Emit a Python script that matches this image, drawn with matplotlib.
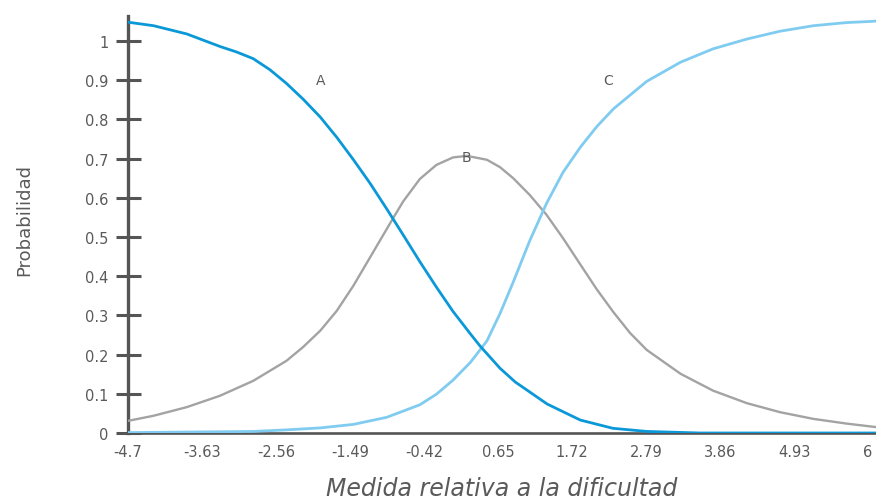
import matplotlib
matplotlib.use("Agg")
import matplotlib.pyplot as plt

# ---- data ----
x_ticks = [-4.7, -3.63, -2.56, -1.49, -0.42, 0.65, 1.72, 2.79, 3.86, 4.93, 6]
x_tick_labels = ["-4.7", "-3.63", "-2.56", "-1.49", "-0.42", "0.65", "1.72", "2.79", "3.86", "4.93", "6"]
y_ticks = [0, 0.1, 0.2, 0.3, 0.4, 0.5, 0.6, 0.7, 0.8, 0.9, 1]
y_tick_labels = ["0", "0.1", "0.2", "0.3", "0.4", "0.5", "0.6", "0.7", "0.8", "0.9", "1"]

a_x = [-4.70, -4.33, -3.85, -3.37, -3.13, -2.89, -2.65, -2.41, -2.17, -1.92, -1.68, -1.44,
       -1.20, -0.96, -0.72, -0.48, -0.24, 0.00, 0.25, 0.39, 0.68, 0.90, 1.36, 1.84,
       2.31, 2.80, 3.57, 6.12]
a_y = [1.048, 1.039, 1.018, 0.986, 0.972, 0.955, 0.927, 0.892, 0.852, 0.806, 0.754, 0.697,
       0.637, 0.572, 0.505, 0.437, 0.372, 0.310, 0.253, 0.222, 0.165, 0.130, 0.074, 0.033,
       0.012, 0.004, 0.000, 0.000]

b_x = [-4.70, -4.33, -3.85, -3.37, -2.89, -2.41, -2.17, -1.92, -1.68, -1.44, -1.20,
       -0.96, -0.86, -0.72, -0.48, -0.24, 0.00, 0.20, 0.49, 0.68, 0.87, 1.11, 1.35,
       1.59, 1.84, 2.08, 2.32, 2.56, 2.80, 3.29, 3.76, 4.25, 4.73, 5.21, 5.69, 6.12]
b_y = [0.031, 0.044, 0.066, 0.095, 0.133, 0.184, 0.219, 0.261, 0.312, 0.376, 0.448,
       0.520, 0.550, 0.591, 0.648, 0.684, 0.703, 0.707, 0.697, 0.678, 0.650, 0.607, 0.557,
       0.497, 0.430, 0.366, 0.308, 0.255, 0.212, 0.151, 0.108, 0.076, 0.053, 0.036, 0.024, 0.015]

c_x = [-4.70, -2.89, -2.41, -1.92, -1.44, -0.96, -0.48, -0.24, 0.00, 0.25, 0.39,
       0.49, 0.68, 0.87, 1.11, 1.35, 1.59, 1.84, 2.08, 2.32, 2.80, 3.29, 3.76, 4.25,
       4.73, 5.21, 5.69, 6.05, 6.12]
c_y = [0.001, 0.004, 0.008, 0.013, 0.022, 0.040, 0.072, 0.099, 0.135, 0.180, 0.212,
       0.235, 0.305, 0.385, 0.491, 0.585, 0.665, 0.729, 0.782, 0.827, 0.897, 0.946, 0.980, 1.005,
       1.025, 1.039, 1.047, 1.050, 1.051]

curve_labels = ["A", "B", "C"]
label_x = [-1.92, 0.19, 2.24]
label_y = [0.90, 0.705, 0.90]

# ---- styling ----
axis_col = "#555555"
text_col = "#5a5a5a"
col_a = "#0a98d8"
col_b = "#a3a3a3"
col_c = "#80ccf0"
font = "DejaVu Sans"

fig = plt.figure(figsize=(8.76, 5.02), dpi=100)
ax = fig.add_axes([128 / 876, 1 - 434 / 502, 1 - 128 / 876, (434 - 17) / 502])

ax.plot(b_x, b_y, color=col_b, lw=1.7, zorder=3, solid_joinstyle="round")
ax.plot(c_x, c_y, color=col_c, lw=2.0, zorder=4, solid_joinstyle="round")
ax.plot(a_x, a_y, color=col_a, lw=2.0, zorder=5, solid_joinstyle="round")

for lab, lx, ly in zip(curve_labels, label_x, label_y):
    ax.text(lx, ly, lab, color=text_col, fontsize=10, ha="center", va="center",
            family=font, zorder=6)

ax.set_xlim(-4.7, -4.7 + (876 - 128) / 69.16)
ax.set_ylim(0, (434 - 17) / 392)

ax.set_xticks(x_ticks)
ax.set_xticklabels(x_tick_labels)
ax.set_yticks(y_ticks)
ax.set_yticklabels(y_tick_labels)

for s in ["top", "right"]:
    ax.spines[s].set_visible(False)
ax.spines["left"].set_color(axis_col)
ax.spines["left"].set_linewidth(2.4)
ax.spines["bottom"].set_color(axis_col)
ax.spines["bottom"].set_linewidth(1.9)
ax.spines["bottom"].set_zorder(2)

ax.tick_params(axis="y", direction="inout", length=18, width=2.2, color=axis_col,
               labelsize=10.5, labelcolor=text_col, pad=5)
ax.tick_params(axis="x", length=0, labelsize=10.5, labelcolor=text_col, pad=8)
for t in ax.get_xticklabels() + ax.get_yticklabels():
    t.set_family(font)

ax.set_ylabel("Probabilidad", fontsize=13, color=text_col, family=font)
ax.yaxis.set_label_coords(-0.127, 0.513)
ax.set_xlabel("Medida relativa a la dificultad", fontsize=17, color=text_col,
              style="italic", family=font)
ax.xaxis.label.set_va("baseline")
ax.xaxis.set_label_coords(0.5, -0.148)

fig.savefig("out.png", dpi=100)
